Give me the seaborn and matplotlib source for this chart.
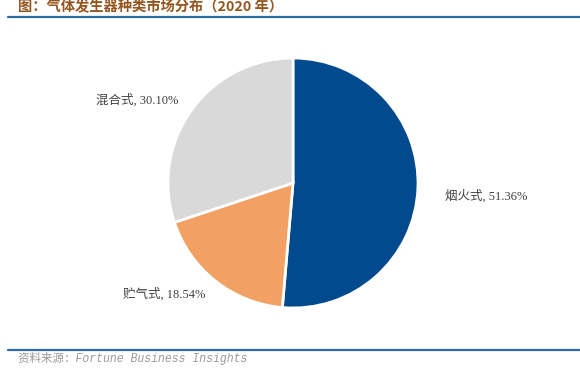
import numpy as np
import matplotlib.pyplot as plt
import seaborn as sns

# data
categories = ["烟火式", "贮气式", "混合式"]
shares = [51.36, 18.54, 30.10]
colors = ["#004a8d", "#f2a064", "#d9d9d9"]

title = "图：气体发生器种类市场分布（2020 年）"
source = "资料来源：Fortune Business Insights"

sns.set_theme(style="white")
plt.rcParams["font.family"] = ["Liberation Serif", "Noto Sans CJK SC", "DejaVu Sans"]

fig = plt.figure(figsize=(5.8, 3.84), dpi=100)

# header and footer rules
line_color = "#2e6aa3"
fig.add_artist(plt.Line2D([8 / 580, 1], [1 - 16.5 / 384] * 2, color=line_color, lw=1.6))
fig.add_artist(plt.Line2D([8 / 580, 1], [1 - 349.5 / 384] * 2, color=line_color, lw=1.6))

fig.text(18 / 580, 1 - 7 / 384, title, ha="left", va="center", fontsize=10.3,
         fontweight="bold", color="#94561f",
         family=["Noto Sans CJK SC", "DejaVu Sans"])
fig.text(18 / 580, 1 - 358 / 384, source, ha="left", va="center", fontsize=8.3,
         style="italic", color="#9a9a9a",
         family=["Liberation Mono", "Noto Sans CJK SC"])

ax = fig.add_axes([(293 - 125) / 580, 1 - (183 + 125) / 384, 250 / 580, 250 / 384])
labels = [f"{c}, {v:.2f}%" for c, v in zip(categories, shares)]
wedges, texts = ax.pie(shares, labels=labels, colors=colors, startangle=90,
                       counterclock=False, labeldistance=1.13,
                       wedgeprops=dict(edgecolor="white", linewidth=2),
                       textprops=dict(fontsize=9, color="#404040"))
# the first label sits a bit further out in the reference
x, y = texts[0].get_position()
texts[0].set_position((x * 1.08, y * 1.08 - 0.05))
ax.set_xlim(-1, 1)
ax.set_ylim(-1, 1)
ax.set_aspect("equal")

fig.savefig("out.png", dpi=100)
